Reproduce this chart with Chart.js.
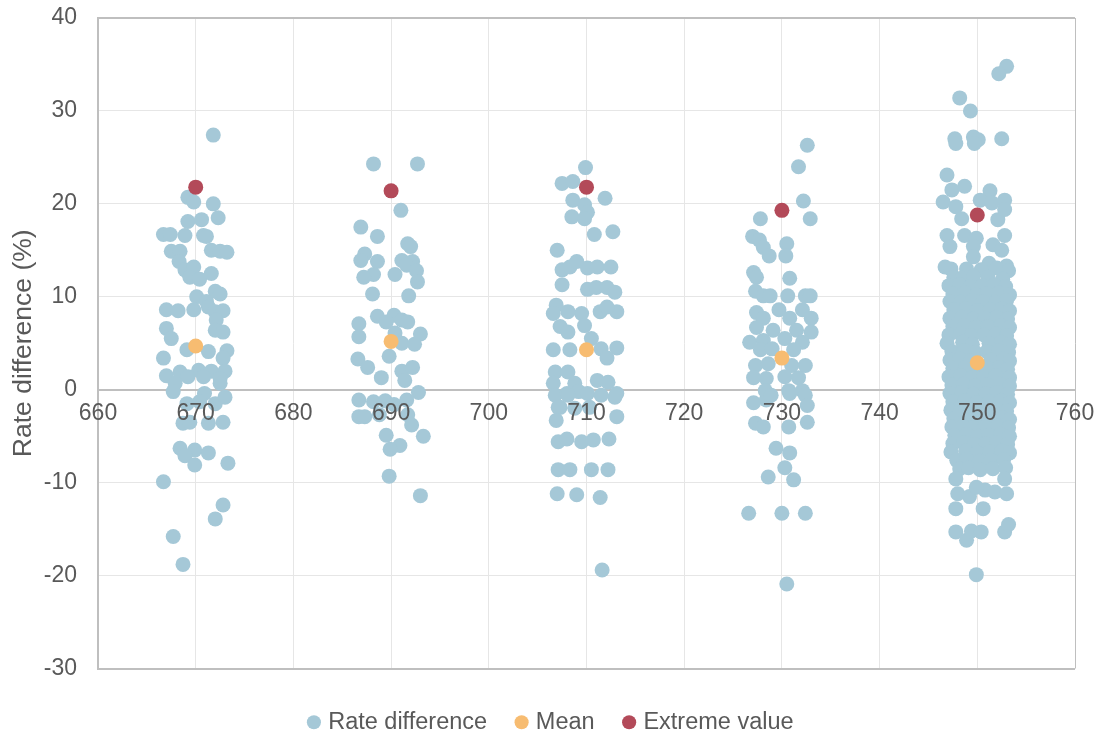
<!DOCTYPE html>
<html>
<head>
<meta charset="utf-8">
<script src="https://cdn.jsdelivr.net/npm/chart.js@4"></script>
<style>
  html, body { margin: 0; padding: 0; background: #fff; }
  #wrap { width: 1095px; height: 731px; }
</style>
</head>
<body>
<div id="wrap"><canvas id="rateChart" width="1095" height="731"></canvas></div>
<script>
// x positions of the groups, axis ticks
const categories = [670, 690, 710, 730, 750];
const xTicks = [660, 670, 680, 690, 700, 710, 720, 730, 740, 750, 760];
const yTicks = [-30, -20, -10, 0, 10, 20, 30, 40];

// rate difference points, [x, y]
const group670 = [
  [671.8,27.4],[669.2,20.7],[669.8,20.2],[671.8,20.0],[672.3,18.5],[669.2,18.1],[670.6,18.3],
  [670.8,16.6],[666.7,16.7],[667.4,16.7],[668.9,16.6],[671.1,16.5],[667.5,14.9],[668.4,14.9],
  [671.6,15.0],[672.5,14.9],[673.2,14.8],[668.3,13.8],[668.9,12.9],[669.8,13.2],[669.4,12.1],
  [670.4,11.9],[671.6,12.5],[672.0,10.6],[672.5,10.3],[670.1,10.0],[671.1,9.5],[667.0,8.6],
  [668.2,8.5],[669.8,8.6],[671.3,8.9],[672.0,8.4],[672.8,8.5],[672.1,7.5],[667.0,6.6],
  [667.5,5.5],[672.0,6.4],[672.8,6.2],[669.1,4.3],[671.3,4.1],[673.2,4.2],[666.7,3.4],
  [672.8,3.4],[667.0,1.5],[668.4,1.9],[670.3,2.1],[671.6,2.0],[673.0,2.0],[669.2,1.4],
  [670.8,1.4],[672.5,1.2],[667.9,0.7],[667.7,-0.2],[672.5,0.7],[670.9,-0.4],[669.1,-1.5],
  [670.4,-1.3],[672.0,-1.5],[673.0,-0.8],[668.7,-3.6],[669.4,-3.5],[671.3,-3.6],[672.8,-3.5],
  [668.4,-6.3],[669.9,-6.5],[671.3,-6.8],[668.9,-7.1],[669.9,-8.1],[673.3,-7.9],[666.7,-9.9],
  [672.8,-12.4],[672.0,-13.9],[667.7,-15.8],[668.7,-18.8]
];
const group690 = [
  [688.2,24.3],[692.7,24.3],[691.0,19.3],[686.9,17.5],[688.6,16.5],[691.7,15.7],[692.0,15.4],
  [687.3,14.6],[686.9,13.9],[688.6,13.8],[691.1,13.9],[692.2,13.8],[691.6,13.4],[688.2,12.4],
  [687.2,12.1],[690.4,12.4],[692.6,12.8],[692.7,11.6],[688.1,10.3],[691.8,10.1],[688.6,7.9],
  [690.3,8.0],[686.7,7.1],[689.5,7.3],[691.1,7.5],[691.7,7.3],[686.7,5.7],[690.4,6.1],
  [693.0,6.0],[691.1,5.0],[692.4,4.9],[686.6,3.3],[687.6,2.4],[689.8,3.6],[691.1,2.0],
  [692.2,2.4],[689.0,1.3],[691.4,1.0],[692.8,-0.3],[686.7,-1.1],[688.2,-1.3],[689.4,-1.2],
  [690.3,-1.6],[691.6,-1.1],[686.7,-2.9],[687.3,-2.9],[688.8,-2.7],[691.7,-2.7],[692.1,-3.8],
  [689.5,-4.9],[693.3,-5.0],[690.9,-6.0],[689.9,-6.4],[689.8,-9.3],[693.0,-11.4]
];
const group710 = [
  [709.9,23.9],[707.5,22.2],[708.6,22.4],[711.9,20.6],[708.6,20.4],[709.8,19.9],[710.1,19.1],
  [708.5,18.6],[709.8,18.4],[710.8,16.7],[712.7,17.0],[707.0,15.0],[707.5,12.9],[708.3,13.2],
  [709.0,13.8],[710.1,13.1],[711.1,13.2],[712.5,13.2],[707.5,11.3],[710.1,10.8],[711.0,11.0],
  [712.1,11.0],[712.9,10.5],[706.9,9.1],[706.6,8.2],[708.1,8.4],[709.5,8.2],[711.4,8.4],
  [713.1,8.4],[712.1,8.9],[707.3,6.8],[709.8,6.9],[708.1,6.2],[710.5,5.5],[706.6,4.3],
  [708.3,4.3],[711.5,4.4],[713.1,4.5],[712.1,3.4],[706.8,1.9],[708.1,1.9],[711.1,1.0],
  [712.2,0.8],[706.6,0.7],[708.8,0.7],[706.8,-0.6],[708.0,-0.4],[709.2,-0.2],[710.1,-0.4],
  [713.1,-0.4],[707.3,-1.9],[708.1,-0.6],[711.5,-0.6],[712.9,-0.8],[707.1,-1.9],[708.8,-2.0],
  [710.3,-1.9],[706.9,-3.3],[713.1,-2.9],[707.1,-5.6],[708.0,-5.3],[709.5,-5.6],[710.7,-5.4],
  [712.3,-5.3],[707.1,-8.6],[708.3,-8.6],[710.5,-8.6],[712.2,-8.6],[707.0,-11.2],[709.0,-11.3],
  [711.4,-11.6],[711.6,-19.4]
];
const group730 = [
  [732.6,26.3],[731.7,24.0],[732.2,20.3],[732.9,18.4],[727.8,18.4],[727.0,16.5],[727.7,16.1],
  [730.5,15.7],[728.1,15.3],[728.7,14.4],[730.4,14.4],[727.1,12.6],[727.4,12.1],[730.8,12.0],
  [727.3,10.6],[728.1,10.1],[728.8,10.1],[730.6,10.1],[732.4,10.1],[732.9,10.1],[727.4,8.3],
  [729.7,8.6],[732.1,8.6],[728.1,7.7],[730.8,7.7],[733.0,7.7],[727.4,6.7],[729.1,6.4],
  [731.5,6.4],[733.0,6.2],[726.7,5.1],[728.1,5.3],[730.3,5.5],[732.1,5.1],[727.8,4.3],
  [729.0,4.4],[731.2,4.3],[727.3,2.6],[728.6,2.8],[731.0,2.6],[732.4,2.6],[727.1,1.3],
  [728.4,1.2],[730.3,1.4],[731.7,1.3],[728.3,-0.1],[730.7,-0.1],[732.1,-0.1],[727.1,-1.4],
  [728.4,-1.1],[728.9,-0.6],[730.8,-0.4],[732.4,-0.6],[732.6,-1.7],[727.3,-3.6],[728.1,-4.0],
  [730.7,-4.0],[732.6,-3.5],[729.4,-6.3],[730.8,-6.8],[730.3,-8.4],[728.6,-9.4],[731.2,-9.7],
  [726.6,-13.3],[730.0,-13.3],[732.4,-13.3],[730.5,-20.9]
];
const group750 = [
  [753.0,34.8],[752.2,34.0],[748.2,31.4],[749.3,30.0],[747.7,27.0],[749.6,27.2],[750.1,26.9],
  [752.5,27.0],[747.8,26.5],[749.7,26.5],[746.9,23.1],[748.7,21.9],[747.4,21.5],[751.3,21.4],
  [746.5,20.2],[750.3,20.4],[752.8,20.4],[747.8,19.7],[751.5,20.1],[748.4,18.4],[752.1,18.3],
  [752.8,19.4],[746.9,16.6],[748.7,16.6],[749.9,16.3],[752.8,16.6],[747.2,15.4],[749.6,15.4],
  [751.6,15.6],[752.5,15.0],[749.6,14.3],[751.2,13.6],[746.7,13.2],[753.0,13.3],
  [747.3,13.0],[748.9,13.0],[750.4,12.9],[752.0,13.1],[753.2,12.8],
  [747.6,12.1],[748.4,12.0],[749.6,12.2],[751.1,12.1],[752.6,11.9],
  [747.1,11.2],[748.2,11.3],[749.3,11.1],[750.5,11.2],[751.7,11.3],[752.9,11.1],
  [747.5,10.3],[748.7,10.4],[749.9,10.2],[751.0,10.3],[752.2,10.4],[753.3,10.2],
  [747.2,9.5],[748.3,9.4],[749.5,9.6],[750.6,9.5],[751.9,9.4],[753.0,9.6],
  [747.6,8.6],[748.8,8.7],[750.0,8.5],[751.3,8.6],[752.5,8.7],[753.3,8.5],
  [747.2,7.7],[748.4,7.8],[749.6,7.6],[750.8,7.7],[752.0,7.8],[753.1,7.6],
  [747.5,6.8],[748.7,6.9],[749.9,6.7],[751.1,6.8],[752.4,6.9],[753.3,6.7],
  [747.1,5.9],[748.3,6.0],[749.4,5.8],[750.7,5.9],[751.9,6.0],[753.0,5.8],
  [746.9,5.0],[748.5,5.1],[749.5,4.9],[751.2,5.0],[752.5,5.1],[753.3,4.9],
  [747.4,4.1],[748.6,4.2],[749.8,4.0],[751.0,4.1],[752.2,4.2],[753.2,4.0],
  [747.2,3.2],[748.2,3.3],[749.3,3.1],[751.4,3.2],[752.7,3.3],[753.3,3.1],
  [747.5,2.3],[748.8,2.4],[750.1,2.2],[751.1,2.3],[752.3,2.4],[753.1,2.2],
  [747.1,1.4],[748.3,1.5],[749.5,1.3],[750.7,1.4],[751.9,1.5],[753.3,1.3],
  [747.4,0.5],[748.6,0.6],[749.8,0.4],[751.0,0.5],[752.3,0.6],[753.3,0.4],
  [747.2,-0.4],[748.4,-0.3],[749.6,-0.5],[750.9,-0.4],[752.0,-0.3],[753.1,-0.5],
  [747.5,-1.3],[748.7,-1.2],[749.9,-1.4],[751.2,-1.3],[752.4,-1.2],[753.3,-1.4],
  [747.3,-2.2],[748.3,-2.1],[749.5,-2.3],[750.7,-2.2],[751.9,-2.1],[753.0,-2.3],
  [747.6,-3.1],[748.8,-3.0],[750.0,-3.2],[751.3,-3.1],[752.5,-3.0],[753.3,-3.2],
  [747.4,-4.0],[748.5,-3.9],[749.6,-4.1],[750.8,-4.0],[752.1,-3.9],[753.2,-4.1],
  [747.7,-4.9],[748.9,-4.8],[750.1,-5.0],[751.2,-4.9],[752.4,-4.8],[753.3,-5.0],
  [747.5,-5.8],[748.6,-5.7],[749.7,-5.9],[750.9,-5.8],[752.0,-5.7],[753.1,-5.9],
  [747.3,-6.7],[748.8,-6.6],[750.0,-6.8],[751.3,-6.7],[752.5,-6.6],[753.3,-6.8],
  [747.9,-7.6],[748.9,-7.5],[750.2,-7.7],[751.4,-7.6],[752.7,-7.5],
  [748.2,-8.5],[749.1,-8.4],[750.3,-8.6],[751.6,-8.5],[752.9,-8.4],
  [747.8,-9.6],[748.0,-11.2],[749.2,-11.5],[750.8,-10.8],[751.8,-11.0],[753.0,-11.2],
  [752.8,-9.6],[749.9,-10.5],[747.8,-12.8],[750.6,-12.8],[747.8,-15.3],[748.9,-16.2],
  [749.4,-15.2],[750.4,-15.3],[752.8,-15.3],[753.2,-14.5],[749.9,-19.9]
];

const meanValues = [4.7, 5.2, 4.3, 3.4, 2.9];
const extremeValues = [21.8, 21.4, 21.8, 19.3, 18.8];

const seriesNames = ['Rate difference', 'Mean', 'Extreme value'];
const seriesColors = ['#a5c8d7', '#f7bc71', '#b34a59'];

const toPoints = arr => arr.map(p => ({ x: p[0], y: p[1] }));
const rateData = toPoints([].concat(group670, group690, group710, group730, group750));
const meanData = categories.map((c, i) => ({ x: c, y: meanValues[i] }));
const extremeData = categories.map((c, i) => ({ x: c, y: extremeValues[i] }));

const textColor = '#595959';
const gridColor = '#e6e6e6';
const frameColor = '#bfbfbf';
const fontFamily = '"Liberation Sans", Arial, sans-serif';

// push the legend a bit lower and right, like the excel original
const legendShift = {
  id: 'legendShift',
  afterLayout(chart) {
    chart.legend.top += 10;
    chart.legend.bottom += 10;
    chart.legend.left += 15;
    chart.legend.right += 15;
  }
};

const ctx = document.getElementById('rateChart').getContext('2d');
new Chart(ctx, {
  type: 'scatter',
  data: {
    datasets: [
      { label: seriesNames[0], data: rateData, backgroundColor: seriesColors[0], order: 3 },
      { label: seriesNames[1], data: meanData, backgroundColor: seriesColors[1], order: 1 },
      { label: seriesNames[2], data: extremeData, backgroundColor: seriesColors[2], order: 2 }
    ]
  },
  plugins: [legendShift],
  options: {
    responsive: false,
    animation: false,
    events: [],
    elements: {
      point: { radius: 7.5, borderWidth: 0, pointStyle: 'circle' }
    },
    layout: { padding: { left: 0, right: 20, top: 18, bottom: -3 } },
    scales: {
      x: {
        type: 'linear',
        position: { y: 0 },
        min: 660,
        max: 760,
        afterBuildTicks: scale => { scale.ticks = xTicks.map(v => ({ value: v })); },
        afterFit: scale => { scale.paddingLeft = 0; scale.paddingRight = 0; },
        ticks: { color: textColor, font: { size: 23, family: fontFamily }, padding: 10, maxRotation: 0, z: 1 },
        grid: {
          drawTicks: false,
          lineWidth: 1,
          color: c => (c.tick && (c.tick.value === 660 || c.tick.value === 760)) ? frameColor : gridColor
        },
        border: { display: true, color: frameColor, width: 2 }
      },
      y: {
        min: -30,
        max: 40,
        afterBuildTicks: scale => { scale.ticks = yTicks.map(v => ({ value: v })); },
        afterFit: scale => { scale.width = 98; scale.paddingTop = 0; scale.paddingBottom = 0; },
        title: {
          display: true,
          text: 'Rate difference (%)',
          color: textColor,
          font: { size: 26.5, family: fontFamily },
          padding: { top: 8, bottom: 0 }
        },
        ticks: { color: textColor, font: { size: 23, family: fontFamily }, padding: 21 },
        grid: {
          drawTicks: false,
          lineWidth: c => (c.tick && (c.tick.value === 40 || c.tick.value === -30)) ? 2 : 1,
          color: c => (c.tick && (c.tick.value === 40 || c.tick.value === -30)) ? frameColor : gridColor
        },
        border: { display: true, color: frameColor, width: 2 }
      }
    },
    plugins: {
      legend: {
        position: 'bottom',
        labels: {
          usePointStyle: true,
          pointStyle: 'circle',
          boxWidth: 5,
          boxHeight: 10,
          padding: 32,
          color: textColor,
          font: { size: 23.5, family: fontFamily },
          sort: (a, b) => a.datasetIndex - b.datasetIndex
        }
      },
      tooltip: { enabled: false }
    }
  }
});
</script>
</body>
</html>
